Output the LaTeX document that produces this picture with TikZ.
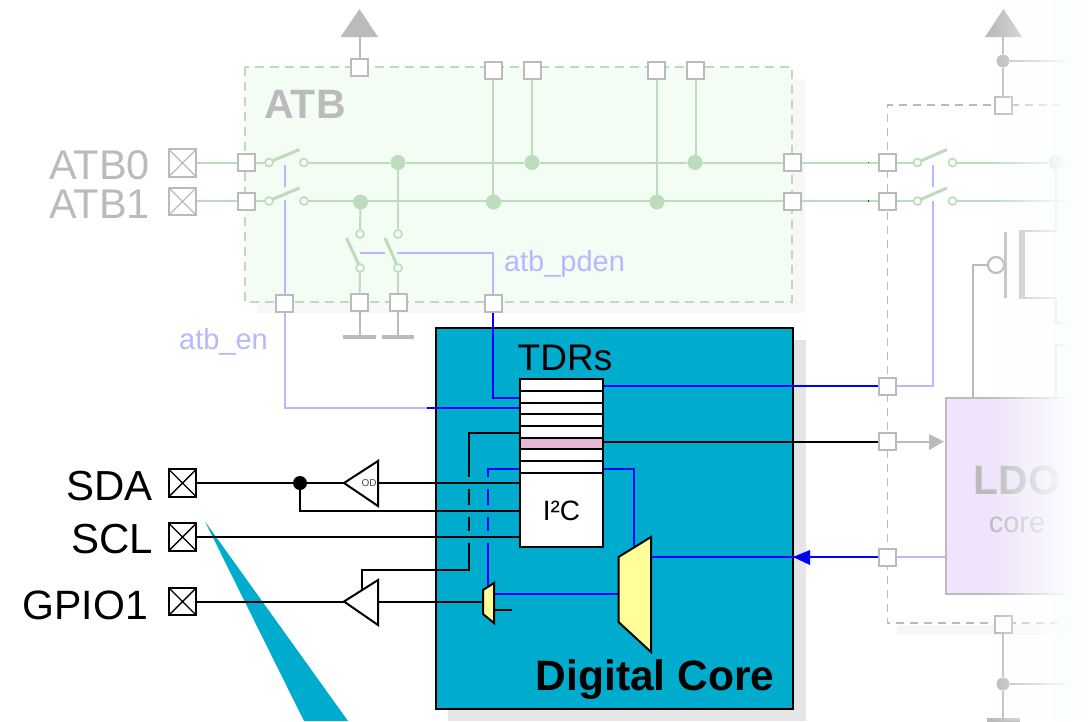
\documentclass[tikz,border=0pt]{standalone}
\usepackage{fontspec}
\setmainfont{Liberation Sans}
\usetikzlibrary{fadings,calc}
\definecolor{tgreen}{HTML}{BCDCBC}
\definecolor{tgfill}{HTML}{F3FDF3}
\definecolor{tgray}{HTML}{BBBBBB}
\definecolor{tblue}{HTML}{B8B8FF}
\definecolor{tcore}{HTML}{00ACCE}
\definecolor{tyellow}{HTML}{FFFF99}
\definecolor{tpink}{HTML}{E6B8D4}
\definecolor{tldo}{HTML}{F0E3FC}
\definecolor{ttint}{HTML}{FBFEFF}
\tikzfading[name=fadeR,left color=transparent!100,right color=transparent!0]
\newcommand{\fsz}[1]{\fontsize{#1}{#1}\selectfont}
\tikzset{
  portbox/.style={draw=tgray,fill=white,line width=2pt,minimum size=17pt,inner sep=0pt,rectangle},
  pad/.style={draw=#1,fill=white,line width=2.4pt,minimum size=27.5pt,inner sep=0pt,rectangle,
    path picture={\draw[#1,line width=1.4pt]
      (path picture bounding box.north west)--(path picture bounding box.south east)
      (path picture bounding box.north east)--(path picture bounding box.south west);}},
  pad/.default=black,
  contact/.style={circle,draw=tgreen,fill=tgfill,line width=1.6pt,minimum size=8pt,inner sep=0pt},
  jdot/.style={circle,fill=tgreen,minimum size=15pt,inner sep=0pt},
  gdot/.style={circle,fill=tgray,minimum size=13pt,inner sep=0pt},
  bdot/.style={circle,fill=black,minimum size=14pt,inner sep=0pt},
  gw/.style={tgreen,line width=2pt},
  blade/.style={tgreen,line width=3pt},
  gr/.style={tgray,line width=2pt},
  lb/.style={tblue,line width=2pt},
  db/.style={blue,line width=2pt},
  bk/.style={black,line width=2pt},
  halo/.style={tcore,line width=12pt},
  gbar/.style={tgray,line width=3.5pt},
  lbl/.style={inner sep=0pt,anchor=center},
  bufr/.style={draw=black,fill=white,line width=2pt,line join=miter},
  muxs/.style={draw=black,fill=tyellow,line width=2pt,line join=miter},
}
\begin{document}
\begin{tikzpicture}[x=1pt,y=-1pt]
\useasboundingbox (0,0) rectangle (1089,721);
\fill[white] (0,0) rectangle (1089,721);
% shadows and boxes
\fill[black!3] (257,80) rectangle (805,313);
\fill[tgfill] (245,67) rectangle (792,302);
\draw[tgreen,line width=2pt,dash pattern=on 9pt off 6pt] (245,67) rectangle (792,302);
\fill[black!3] (897,625) rectangle (1089,635);
\draw[tgray,line width=1.7pt,dash pattern=on 8pt off 6pt] (1089,105) -- (887.5,105) -- (887.5,623) -- (1089,623);
\fill[black!10] (448,340) rectangle (806,721);
\node[draw=black,fill=tcore,line width=1.8pt,minimum width=357pt,minimum height=381pt,inner sep=0pt] (core) at (614.5,518.5) {};
\fill[tcore] (205,521.5) -- (304,721) -- (348,721) -- cycle;
\node[draw=tgray,fill=tldo,line width=2pt,minimum width=200pt,minimum height=196pt,inner sep=0pt] (ldo) at (1046,496) {};
% labels
\node[lbl,text=tgray,font=\bfseries\fsz{41}] (atbt) at (305,104) {ATB};
\node[lbl,text=tgray,anchor=west,font=\fsz{41.5}] (l0) at (49,165) {ATB0};
\node[lbl,text=tgray,anchor=west,font=\fsz{41.5}] (l1) at (49,204) {ATB1};
\node[lbl,anchor=east,font=\fsz{42}] (l2) at (153,486) {SDA};
\node[lbl,anchor=east,font=\fsz{42}] (l3) at (153,539) {SCL};
\node[lbl,anchor=east,font=\fsz{41}] (l4) at (148,605) {GPIO1};
\node[lbl,text=tblue,font=\fsz{29}] (lben) at (223.5,342) {atb\_en};
\node[lbl,text=tblue,font=\fsz{29}] (lbpd) at (564.5,264) {atb\_pden};
\node[lbl,font=\fsz{37}] (ltdr) at (565,358) {TDRs};
\node[lbl,font=\bfseries\fsz{42.5}] (ldc) at (655,680) {Digital Core};
\node[lbl,text=tgray,font=\bfseries\fsz{41}] (lldo) at (1017,480) {LDO};
\node[lbl,text=tgray,font=\fsz{29}] (lcore) at (1017,525) {core};
% pads
\node[pad=tgray] (pa0) at (182.5,163) {};
\node[pad=tgray] (pa1) at (182.5,201.5) {};
\node[pad] (psda) at (182.5,483) {};
\node[pad] (pscl) at (182.5,537) {};
\node[pad] (pgp) at (182.5,601.5) {};
% ports
\foreach \n/\x/\y in {a/246/162.5,b/246/201,t0/359.5/67,t1/493/70,t2/532/70,t3/656.5/70,t4/695.5/70,
  r0/792/162.5,r1/792/201,e0/284.5/303,e1/359.5/302,e2/398/302,e3/493/303,
  s0/887.5/162.5,s1/887.5/201,s2/1003/105,s3/887.5/386,s4/887.5/441.5,s5/887.5/557,s6/1003/624}
  {\node[portbox] (\n) at (\x,\y) {};}
% contacts
\foreach \n/\x/\y in {c0/269/162.5,c1/304/162.5,c2/269/201,c3/304/201,c4/360/234,c5/398/234,c6/360/268,c7/398/268,
  c8/917.5/162.5,c9/952.5/162.5,c10/917.5/201,c11/952.5/201}
  {\node[contact] (\n) at (\x,\y) {};}
% junctions
\foreach \n/\x/\y in {j0/398/162.5,j1/360.5/202,j2/493.5/202,j3/532/162.5,j4/657/202,j5/695/162.5,j6/1056/162.5}
  {\node[jdot] (\n) at (\x,\y) {};}
\node[gdot] (g0) at (1003,61) {};
\node[gdot] (g1) at (1003,684) {};
% green wires
\draw[gw] (pa0.east|-a) -- (a);
\draw[gw] (pa1.east|-b) -- (b);
\draw[gw] (a) -- (c0); \draw[gw] (b) -- (c2);
\draw[gw] (c1) -- (j0); \draw[gw] (j0) -- (j3); \draw[gw] (j3) -- (j5); \draw[gw] (j5) -- (r0);
\draw[gw] (c3) -- (j1|-c3); \draw[gw] (j1|-c3) -- (j4|-c3); \draw[gw] (j4|-c3) -- (r1);
\draw[gw] (j0) -- (c5); \draw[gw] (j1) -- (c4);
\draw[gw] (c6) -- (e1); \draw[gw] (c7) -- (e2);
\draw[gw] (t1) -- (t1|-j2); \draw[gw] (t2) -- (j3); \draw[gw] (t3) -- (t3|-j4); \draw[gw] (t4) -- (t4|-j5);
\draw[gw] (r0) -- (s0); \draw[gw] (r1) -- (s1);
\draw[gw] (s0) -- (c8); \draw[gw] (s1) -- (c10);
\draw[gw] (c9) -- (j6); \draw[gw] (j6) -- (1089,162.5);
\draw[gw] (c11) -- (1089,201);
\draw[gw] (j6) -- (1056,231);
\fill[green!45!black] (867.5,161.5) rectangle (869,163);
\fill[green!45!black] (867.5,200) rectangle (869,201.5);
% blades
\draw[blade] (272,161) -- (299.5,149.5);
\draw[blade] (272,199.5) -- (299.5,188);
\draw[blade] (358.5,264) -- (346.5,238);
\draw[blade] (396.5,264) -- (385,238);
\draw[blade] (920.5,161) -- (947,149.5);
\draw[blade] (920.5,199.5) -- (947,188);
% gray
\draw[gr] (e1) -- (359.5,337); \draw[gr] (e2) -- (398,337);
\draw[gbar] (343,337) -- (376,337); \draw[gbar] (382,337) -- (414,337);
\draw[gr] (t0) -- (359.5,30);
\fill[tgray] (359.5,9) -- (378,37) -- (340.5,37) -- cycle;
\draw[gr] (s2) -- (g0); \draw[gr] (g0) -- (1003,30);
\fill[tgray] (1003.5,9) -- (1022,37) -- (985,37) -- cycle;
\draw[gr] (g0) -- (1089,61);
\draw[gr] (s6) -- (g1); \draw[gr] (g1) -- (1003,720); \draw[gr] (g1) -- (1089,684);
\draw[gbar] (987,720) -- (1020,720);
% PMOS
\node[circle,draw=tgray,fill=white,line width=2.2pt,minimum size=16pt,inner sep=0pt] (bub) at (996,265) {};
\draw[gr,line width=2.2pt] (1005.5,232) -- (1005.5,298);
\draw[tgray,line width=6pt] (1022,230) -- (1022,299);
\draw[tgray,line width=2.2pt] (1019,231) -- (1056,231);
\draw[tgray,line width=2.2pt] (1019,298) -- (1056,298);
\draw[gr] (1056,298) -- (1056,323) -- (1089,323);
\draw[gr] (1089,345) -- (1056,345) -- (1056,397);
\draw[gr] (bub.west) -- (973,265) -- (973,397);
% light blue
\draw[lb] (e0) -- (284.5,408) -- (427,408);
\draw[lb] (284.5,165) -- (284.5,187);
\draw[lb] (284.5,200) -- (e0);
\draw[lb] (360,252.5) -- (385,252.5);
\draw[lb] (397,252.5) -- (493,252.5) -- (e3);
\draw[lb] (s3) -- (932.5,386) -- (932.5,201);
\draw[lb] (932.5,187) -- (932.5,165);
\draw[lb] (s5) -- (ldo.west|-s5);
\draw[gr] (s4) -- (930,441.5);
\fill[tgray] (944,441.5) -- (929,434) -- (929,450) -- cycle;
% wires under TDR
\draw[bk] (520,433) -- (469,433) -- (469,570) -- (362,570) -- (362,590);
\draw[db] (520,469) -- (487.5,469) -- (487.5,587);
\draw[halo] (462,483) -- (495,483);
\draw[halo] (462,511) -- (495,511);
\draw[halo] (462,537) -- (495,537);
% TDR block
\node[draw=black,fill=white,line width=2pt,minimum width=83pt,minimum height=168pt,inner sep=0pt] (tdr) at (561.5,463) {};
\node[draw=black,fill=tpink,line width=2pt,minimum width=83pt,minimum height=11.5pt,inner sep=0pt] (tdrp) at (561.5,443.5) {};
\foreach \y in {391,402.5,414,426,461,473}{\draw[black,line width=2pt] (519.5,\y) -- (603,\y);}
\node[lbl,font=\fsz{28}] (li2c) at (561.5,511) {I²C};
% buffers
\draw[bk] (psda.east) -- (344,483);
\draw[bufr] (344,483) -- (378,461) -- (378,506) -- cycle;
\node[lbl,text=black!70,font=\fsz{10}] (lod) at (369,483.5) {OD};
\draw[bk] (378,483) -- (tdr.west|-0,483);
\node[bdot] (jsda) at (300,483) {};
\draw[bk] (jsda) -- (300,511) -- (tdr.west|-0,511);
\draw[bk] (pscl.east) -- (tdr.west|-pscl);
\draw[bk] (pgp.east) -- (344,601.5);
\draw[bufr] (344,601.5) -- (378,580) -- (378,625) -- cycle;
\draw[bk] (378,601.5) -- (483,601.5);
% muxes
\draw[bk] (494,610) -- (512,610);
\draw[db] (494,594) -- (618,594);
\draw[muxs] (483,590) -- (494,583) -- (494,623) -- (483,614) -- cycle;
\draw[db] (tdr.east|-0,469) -- (634,469) -- (634,546);
\draw[muxs] (618.5,557) -- (651,537) -- (651,652) -- (618.5,622) -- cycle;
% right wires
\draw[db] (tdr.east|-s3) -- (s3);
\draw[bk] (tdrp.east|-s4) -- (s4);
\draw[db] (s5) -- (651,557);
\fill[blue] (793,557) -- (810,550) -- (810,565) -- cycle;
% TDR to ATB / core
\draw[db] (e3) -- (493,398) -- (tdr.west|-0,398);
\draw[db] (427,408) -- (tdr.west|-0,408);
% right side fade
\fill[ttint,path fading=fadeR] (990,0) rectangle (1070,721);
\fill[ttint] (1070,0) rectangle (1076,721);
\fill[white] (1076,0) rectangle (1089,721);
\end{tikzpicture}
\end{document}
